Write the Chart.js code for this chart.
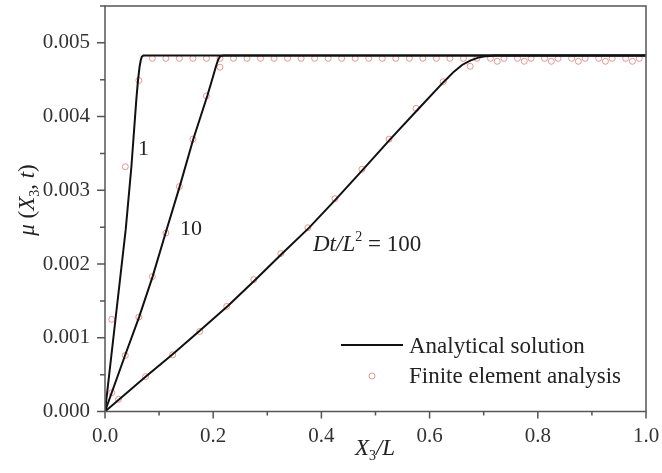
<!DOCTYPE html>
<html>
<head>
<meta charset="utf-8">
<script src="https://cdn.jsdelivr.net/npm/chart.js@4.4.1/dist/chart.umd.min.js"></script>
<style>
  html, body { margin: 0; padding: 0; background: #fff; }
  #wrap { width: 662px; height: 473px; position: relative; }
</style>
</head>
<body>
<div id="wrap"><canvas id="chart"></canvas></div>
<script>
// Analytical solution curves
const anaX1 = [0, 0.0383, 0.0489, 0.058, 0.061, 0.064, 0.066, 0.068, 0.071, 0.075, 1.0];
const anaY1 = [0, 0.00247, 0.00333, 0.00424, 0.00449, 0.00468, 0.00476, 0.00481, 0.00483, 0.00483, 0.00483];

const anaX10 = [0, 0.037, 0.063, 0.088, 0.112, 0.138, 0.163, 0.189, 0.200, 0.205, 0.209, 0.213, 0.22, 1.0];
const anaY10 = [0, 0.00076, 0.00128, 0.00183, 0.00242, 0.00305, 0.00369, 0.00428, 0.00455, 0.00468, 0.00477, 0.00482, 0.00483, 0.00483];

const anaX100 = [0, 0.075, 0.124, 0.174, 0.227, 0.277, 0.327, 0.377, 0.427, 0.478, 0.527, 0.58, 0.626, 0.645, 0.66, 0.675, 0.69, 0.705, 0.72, 1.0];
const anaY100 = [0, 0.00047, 0.00077, 0.00109, 0.00143, 0.00178, 0.00214, 0.00249, 0.00288, 0.00329, 0.00369, 0.00411, 0.00447, 0.00461, 0.00470, 0.00476, 0.00480, 0.00482, 0.00483, 0.00483];

// Finite element points
const feX1 = [0.0125, 0.0375, 0.0625, 0.0875, 0.1125, 0.1375, 0.1625, 0.1875, 0.2125, 0.2375,
  0.2625, 0.2875, 0.3125, 0.3375, 0.3625, 0.3875, 0.4125, 0.4375, 0.4625, 0.4875,
  0.5125, 0.5375, 0.5625, 0.5875, 0.6125, 0.6375, 0.6625, 0.6875, 0.7125, 0.7375,
  0.7625, 0.7875, 0.8125, 0.8375, 0.8625, 0.8875, 0.9125, 0.9375, 0.9625, 0.9875];
const feY1 = [0.00125, 0.00332, 0.00449, 0.00479, 0.00479, 0.00479, 0.00479, 0.00479, 0.00479, 0.00479,
  0.00479, 0.00479, 0.00479, 0.00479, 0.00479, 0.00479, 0.00479, 0.00479, 0.00479, 0.00479,
  0.00479, 0.00479, 0.00479, 0.00479, 0.00479, 0.00479, 0.00479, 0.00479, 0.00479, 0.00479,
  0.00479, 0.00479, 0.00479, 0.00479, 0.00479, 0.00479, 0.00479, 0.00479, 0.00479, 0.00479];

const feX10 = [0.0125, 0.0375, 0.0625, 0.0875, 0.1125, 0.1375, 0.1625, 0.1875, 0.2125];
const feY10 = [0.000256, 0.00076, 0.00128, 0.00183, 0.00242, 0.00305, 0.003694, 0.00428, 0.00467];

const feX100 = [0.025, 0.075, 0.125, 0.175, 0.225, 0.275, 0.325, 0.375, 0.425, 0.475,
  0.525, 0.575, 0.625, 0.675, 0.725, 0.775, 0.825, 0.875, 0.925, 0.975];
const feY100 = [0.000166, 0.000473, 0.000769, 0.001086, 0.001426, 0.001789, 0.002143, 0.002492, 0.002887, 0.003286,
  0.003694, 0.004111, 0.004473, 0.004683, 0.00475, 0.00475, 0.00475, 0.00475, 0.00475, 0.00475];

const SERIF = '"Liberation Serif", "Times New Roman", serif';
const LINE_COLOR = '#111';
const CIRCLE_COLOR = 'rgba(225, 130, 130, 0.85)';
const AXIS_COLOR = '#555';

const toPoints = (xs, ys) => xs.map((x, i) => ({ x: x, y: ys[i] }));

const lineSet = (xs, ys) => ({
  type: 'line',
  data: toPoints(xs, ys),
  borderColor: LINE_COLOR,
  borderWidth: 2,
  pointRadius: 0,
  fill: false,
  tension: 0
});

const feSet = (xs, ys) => ({
  type: 'scatter',
  data: toPoints(xs, ys),
  showLine: false,
  pointStyle: 'circle',
  pointRadius: 3,
  pointBorderWidth: 1,
  pointBorderColor: CIRCLE_COLOR,
  pointBackgroundColor: 'rgba(255,255,255,0)'
});

// draw text made of runs: [text, italic, size, dy]
function drawRuns(ctx, runs, x, y, align) {
  let total = 0;
  runs.forEach(r => {
    ctx.font = (r[1] ? 'italic ' : '') + r[2] + 'px ' + SERIF;
    total += ctx.measureText(r[0]).width;
  });
  let cx = align === 'center' ? x - total / 2 : x;
  runs.forEach(r => {
    ctx.font = (r[1] ? 'italic ' : '') + r[2] + 'px ' + SERIF;
    ctx.fillText(r[0], cx, y + (r[3] || 0));
    cx += ctx.measureText(r[0]).width;
  });
}

const decorPlugin = {
  id: 'decor',
  afterDraw(chart) {
    const ctx = chart.ctx;
    const a = chart.chartArea;
    const xs = chart.scales.x;
    const ys = chart.scales.y;
    ctx.save();

    // frame
    ctx.strokeStyle = AXIS_COLOR;
    ctx.lineWidth = 1.5;
    ctx.strokeRect(a.left, a.top, a.right - a.left, a.bottom - a.top);

    // ticks (outward)
    ctx.beginPath();
    xs.ticks.forEach((t, i) => {
      const px = xs.getPixelForValue(t.value);
      const len = i % 2 === 0 ? 7 : 4;
      ctx.moveTo(px, a.bottom);
      ctx.lineTo(px, a.bottom + len);
    });
    ys.ticks.forEach((t, i) => {
      const py = ys.getPixelForValue(t.value);
      const len = i % 2 === 0 ? 8 : 5;
      ctx.moveTo(a.left, py);
      ctx.lineTo(a.left - len, py);
    });
    ctx.stroke();

    ctx.fillStyle = '#222';
    ctx.textBaseline = 'alphabetic';

    // axis titles
    drawRuns(ctx, [['X', true, 23, 0], ['3', false, 14, 5], ['/L', true, 23, 0]], 375, 455, 'center');
    ctx.save();
    ctx.translate(34, 200);
    ctx.rotate(-Math.PI / 2);
    drawRuns(ctx, [['\u03bc', true, 23, 0], [' (', false, 23, 0], ['X', true, 23, 0], ['3', false, 14, 5],
      [', ', false, 23, 0], ['t', true, 23, 0], [')', false, 23, 0]], 0, 0, 'center');
    ctx.restore();

    // curve labels
    drawRuns(ctx, [['1', false, 22, 0]], 138, 155, 'left');
    drawRuns(ctx, [['10', false, 22, 0]], 180, 235, 'left');
    drawRuns(ctx, [['Dt/L', true, 23, 0], ['2', false, 14, -10], [' = 100', false, 23, 0]], 313, 251, 'left');

    // legend
    ctx.strokeStyle = LINE_COLOR;
    ctx.lineWidth = 2;
    ctx.beginPath();
    ctx.moveTo(341, 345);
    ctx.lineTo(403, 345);
    ctx.stroke();
    ctx.strokeStyle = CIRCLE_COLOR;
    ctx.lineWidth = 1;
    ctx.beginPath();
    ctx.arc(372, 376, 3, 0, Math.PI * 2);
    ctx.stroke();
    drawRuns(ctx, [['Analytical solution', false, 23, 0]], 409, 353, 'left');
    drawRuns(ctx, [['Finite element analysis', false, 23, 0]], 409, 383, 'left');

    ctx.restore();
  }
};

new Chart(document.getElementById('chart'), {
  type: 'scatter',
  data: {
    datasets: [
      lineSet(anaX1, anaY1),
      lineSet(anaX10, anaY10),
      lineSet(anaX100, anaY100),
      feSet(feX1, feY1),
      feSet(feX10, feY10),
      feSet(feX100, feY100)
    ]
  },
  options: {
    responsive: true,
    maintainAspectRatio: false,
    animation: false,
    layout: { padding: { top: 6, right: 16, left: 0, bottom: 0 } },
    plugins: {
      legend: { display: false },
      tooltip: { enabled: false }
    },
    scales: {
      x: {
        type: 'linear',
        min: 0,
        max: 1.0,
        grid: { display: false, drawTicks: false },
        border: { display: false },
        ticks: {
          stepSize: 0.1,
          autoSkip: false,
          maxRotation: 0,
          padding: 12,
          color: '#333',
          font: { family: SERIF, size: 21 },
          callback: (v, i) => (i % 2 === 0 ? v.toFixed(1) : '')
        },
        afterFit: (scale) => {
          scale.height = 61.5;
          scale.paddingLeft = 0;
          scale.paddingRight = 0;
        }
      },
      y: {
        type: 'linear',
        min: 0,
        max: 0.0055,
        grid: { display: false, drawTicks: false },
        border: { display: false },
        ticks: {
          stepSize: 0.0005,
          autoSkip: false,
          padding: 15,
          color: '#333',
          font: { family: SERIF, size: 21 },
          callback: (v, i) => (i % 2 === 0 && v < 0.0052 ? v.toFixed(3) : '')
        },
        afterFit: (scale) => {
          scale.width = 105;
          scale.paddingTop = 0;
          scale.paddingBottom = 0;
        }
      }
    }
  },
  plugins: [decorPlugin]
});
</script>
</body>
</html>
